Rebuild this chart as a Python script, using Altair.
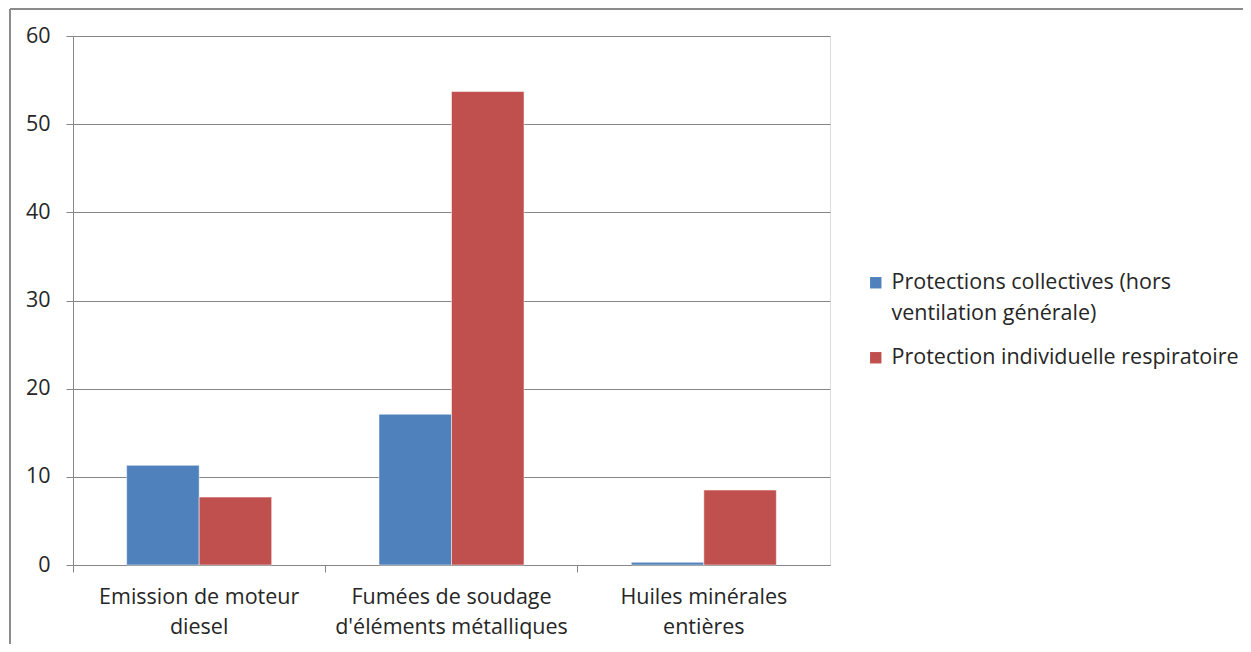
import altair as alt
import pandas as pd

categories = ["Emission de moteur|diesel", "Fumées de soudage|d'éléments métalliques", "Huiles minérales|entières"]
series = ["Protections collectives (hors|ventilation générale)", "Protection individuelle respiratoire"]
collectives = [11.3, 17.1, 0.3]
individuelle = [7.7, 53.7, 8.5]
y_ticks = [0, 10, 20, 30, 40, 50, 60]
colors = ["#4F81BD", "#C0504D"]

rows = []
for c, a, b in zip(categories, collectives, individuelle):
    rows.append({"cat": c, "serie": series[0], "val": a})
    rows.append({"cat": c, "serie": series[1], "val": b})
df = pd.DataFrame(rows)

FONT = "Open Sans"
FS = 21.5
W, H = 757, 529

bars = alt.Chart(df).mark_bar(stroke="white", strokeWidth=0.5).encode(
    x=alt.X("cat:N", sort=categories, title=None,
            scale=alt.Scale(paddingInner=0, paddingOuter=0),
            axis=alt.Axis(labelAngle=0, labelExpr="split(datum.label, '|')",
                          bandPosition=0, tickSize=7, tickColor="#868686",
                          domainColor="#868686", labelFontSize=FS, labelFont=FONT,
                          labelColor="#262626", labelPadding=14, labelLineHeight=30,
                          labelBaseline="top", labelLimit=400)),
    xOffset=alt.XOffset("serie:N", sort=series,
                        scale=alt.Scale(paddingInner=0, paddingOuter=0.74)),
    y=alt.Y("val:Q", title=None,
            scale=alt.Scale(domain=[0, 60], nice=False),
            axis=alt.Axis(values=y_ticks, grid=True, gridColor="#868686", gridWidth=1,
                          tickSize=7, tickColor="#868686", domainColor="#868686",
                          labelFontSize=FS, labelFont=FONT, labelColor="#262626",
                          labelPadding=16)),
    color=alt.Color("serie:N", sort=series,
                    scale=alt.Scale(domain=series, range=colors),
                    legend=alt.Legend(title=None, orient="none", legendX=792, legendY=236,
                                      symbolType="square", symbolSize=130,
                                      symbolStrokeWidth=0, labelFontSize=FS,
                                      labelFont=FONT, labelColor="#262626",
                                      labelExpr="split(datum.label, '|')",
                                      labelLimit=400, rowPadding=21, labelOffset=5)),
)

frame_top = alt.Chart(pd.DataFrame({"k": [0]})).mark_rule(color="#8c8c8c", strokeWidth=2, clip=False).encode(
    x=alt.value(-63), x2=alt.value(1180), y=alt.value(-27))
frame_left = alt.Chart(pd.DataFrame({"k": [0]})).mark_rule(color="#8c8c8c", strokeWidth=2, clip=False).encode(
    x=alt.value(-63), y=alt.value(-27), y2=alt.value(620))

chart = alt.layer(bars, frame_top, frame_left).properties(
    width=W, height=H,
    padding={"left": 65, "top": 28, "right": 413, "bottom": 79},
    autosize=alt.AutoSizeParams(type="none"),
).configure_view(stroke=None).configure(
    background="white", style={"guide-label": {"lineHeight": 31}}
)

chart.save("out.html", embed_options={"renderer": "svg", "actions": False})
